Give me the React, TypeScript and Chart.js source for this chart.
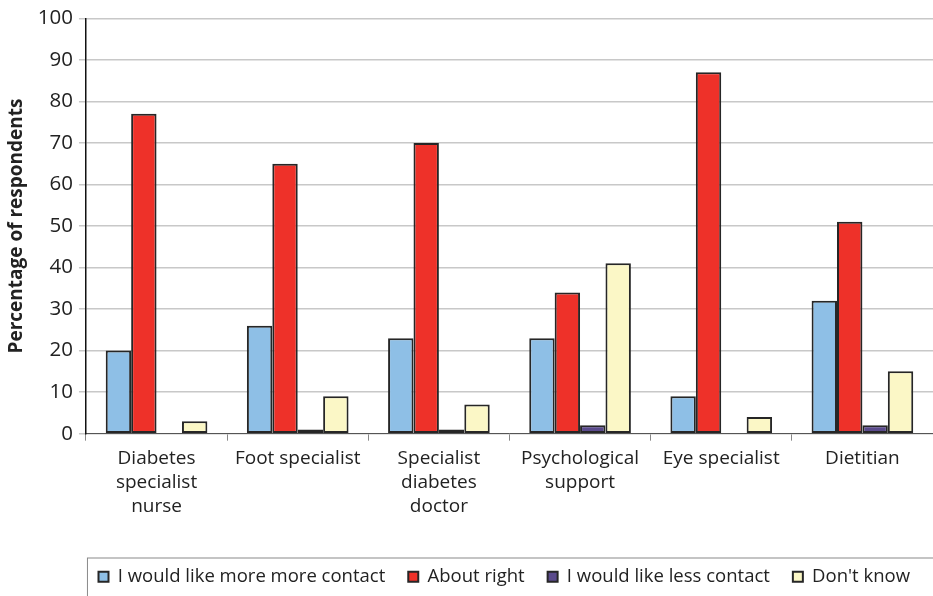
import React, { useEffect, useRef } from "react";
import { Chart, registerables } from "chart.js";

Chart.register(...registerables);

const categories: string[][] = [
  ["Diabetes", "specialist", "nurse"],
  ["Foot specialist"],
  ["Specialist", "diabetes", "doctor"],
  ["Psychological", "support"],
  ["Eye specialist"],
  ["Dietitian"],
];
const seriesNames = [
  "I would like more more contact",
  "About right",
  "I would like less contact",
  "Don't know",
];
const moreContact = [20, 26, 23, 23, 9, 32];
const aboutRight = [77, 65, 70, 34, 87, 51];
const lessContact = [0, 1, 1, 2, 0, 2];
const dontKnow = [3, 9, 7, 41, 4, 15];
const colors = ["#8ebfe6", "#ee3129", "#5a4a8c", "#fbf7c6"];

const FONT = "'Open Sans', 'Noto Sans', sans-serif";

const legendBoxPlugin = {
  id: "legendBox",
  afterDraw(chart: any) {
    const lg = chart.legend;
    if (!lg) return;
    const ctx = chart.ctx;
    ctx.save();
    ctx.strokeStyle = "#8a8a8a";
    ctx.lineWidth = 1;
    ctx.strokeRect(chart.chartArea.left + 1.5, lg.top + 13.5, chart.chartArea.right - chart.chartArea.left + 5, lg.bottom - lg.top + 10);
    ctx.restore();
  },
};

export default function App() {
  const ref = useRef<HTMLCanvasElement>(null);
  useEffect(() => {
    const data = [moreContact, aboutRight, lessContact, dontKnow];
    const chart = new Chart(ref.current!, {
      type: "bar",
      data: {
        labels: categories,
        datasets: data.map((d, i) => ({
          label: seriesNames[i],
          data: d,
          backgroundColor: colors[i],
          borderColor: "#262626",
          borderWidth: 2,
          borderSkipped: false,
          categoryPercentage: 0.72,
          barPercentage: 1,
        })),
      },
      options: {
        animation: false,
        responsive: false,
        maintainAspectRatio: false,
        layout: { padding: { top: 4, right: 0, left: 5, bottom: 0 } },
        plugins: {
          tooltip: { enabled: false },
          legend: {
            position: "bottom",
            align: "end",
            maxHeight: 52,
            labels: {
              boxWidth: 10,
              boxHeight: 10,
              padding: 23,
              color: "#222",
              font: { family: FONT, size: 18.5 },
            },
          },
        },
        scales: {
          x: {
            grid: {
              offset: true,
              drawOnChartArea: false,
              drawTicks: true,
              tickLength: 7,
              color: "#888",
            },
            border: { color: "#555", width: 1 },
            ticks: {
              color: "#222",
              font: { family: FONT, size: 19, lineHeight: 1.26 },
              maxRotation: 0,
              autoSkip: false,
              padding: 6,
            },
            afterFit: (scale: any) => {
              scale.height += 20;
            },
          },
          y: {
            min: 0,
            max: 100,
            ticks: {
              stepSize: 10,
              color: "#222",
              font: { family: FONT, size: 20.5 },
              padding: 6,
            },
            grid: { color: "#c8c8c8", tickLength: 7, lineWidth: 1.5 },
            border: { color: "#111", width: 1.5 },
            title: {
              display: true,
              text: "Percentage of respondents",
              color: "#222",
              font: { family: FONT, size: 19, weight: "bold" },
              padding: { top: 0, bottom: 4 },
            },
          },
        },
      },
      plugins: [legendBoxPlugin],
    });
    return () => chart.destroy();
  }, []);
  return (
    <div style={{ position: "fixed", left: 0, top: 0, width: 933, height: 596, background: "#fff" }}>
      <canvas ref={ref} width={933} height={596} style={{ width: 933, height: 596 }} />
    </div>
  );
}
